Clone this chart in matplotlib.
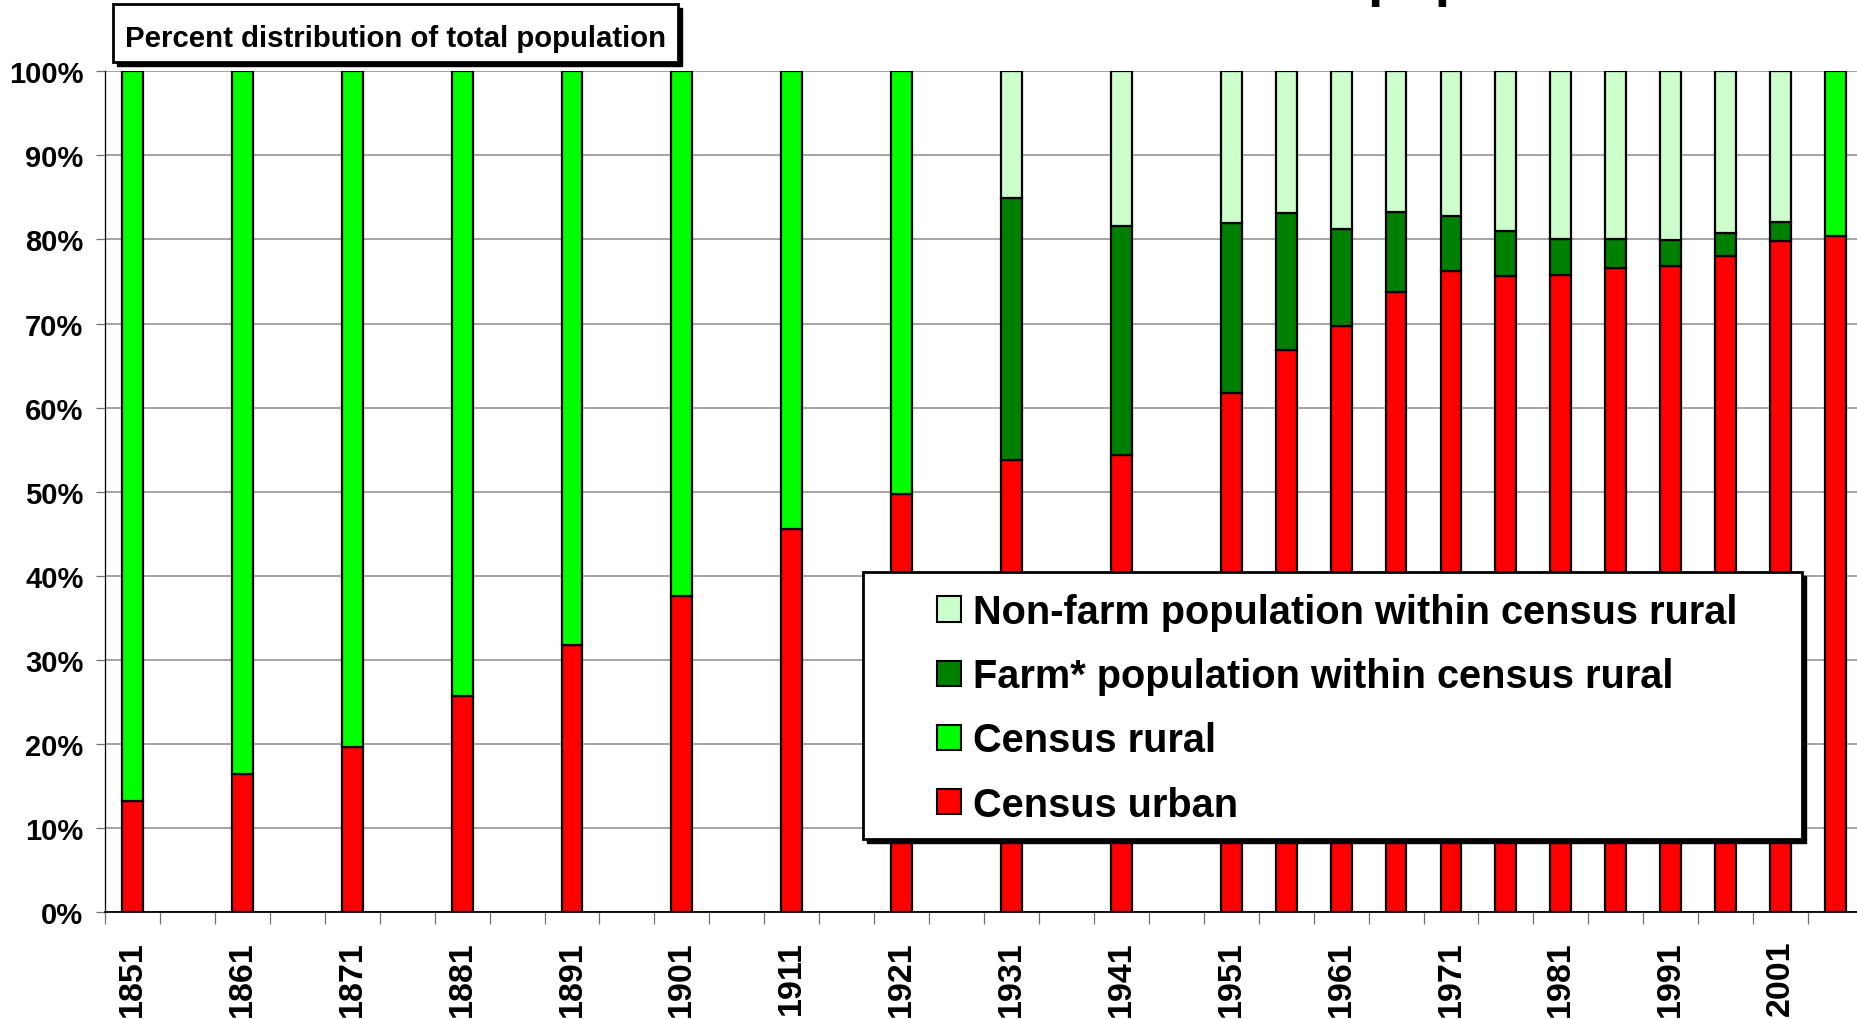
import matplotlib
matplotlib.use("Agg")
import matplotlib.pyplot as plt
from matplotlib.patches import Patch, Rectangle
from matplotlib.ticker import PercentFormatter
import numpy as np

plt.rcParams['font.family'] = ['Liberation Sans', 'DejaVu Sans']
plt.rcParams['font.weight'] = 'bold'

# census years and percent shares of total population
years = [1851, 1861, 1871, 1881, 1891, 1901, 1911, 1921, 1931, 1941,
         1951, 1956, 1961, 1966, 1971, 1976, 1981, 1986, 1991, 1996, 2001, 2006]
census_urban = [13.2, 16.4, 19.6, 25.7, 31.8, 37.6, 45.5, 49.7, 53.8, 54.4,
                61.7, 66.8, 69.7, 73.7, 76.2, 75.6, 75.8, 76.6, 76.8, 78.0, 79.8, 80.4]
census_rural = [86.8, 83.6, 80.4, 74.3, 68.2, 62.4, 54.5, 50.3, 0, 0,
                0, 0, 0, 0, 0, 0, 0, 0, 0, 0, 0, 19.6]
farm_rural = [0, 0, 0, 0, 0, 0, 0, 0, 31.1, 27.2,
              20.2, 16.4, 11.5, 9.6, 6.6, 5.4, 4.3, 3.5, 3.1, 2.8, 2.3, 0]
nonfarm_rural = [0, 0, 0, 0, 0, 0, 0, 0, 15.1, 18.4,
                 18.1, 16.8, 18.8, 16.7, 17.2, 19.0, 19.9, 19.9, 20.1, 19.2, 17.9, 0]
label_years = [1851, 1861, 1871, 1881, 1891, 1901, 1911, 1921, 1931, 1941,
               1951, 1961, 1971, 1981, 1991, 2001]

c_urban = '#FF0000'
c_rural = '#00FF00'
c_farm = '#008000'
c_nonfarm = '#CCFFCC'

W, H = 1858, 1020
fig = plt.figure(figsize=(W / 100, H / 100), dpi=100)
ax = fig.add_axes([105 / W, 1 - 913 / H, 1758 / W, (913 - 72.3) / H])

x = np.array(years)
u = np.array(census_urban)
r = np.array(census_rural)
f = np.array(farm_rural)
nf = np.array(nonfarm_rural)

bw = 1.9
kw = dict(width=bw, edgecolor='black', linewidth=1.6, zorder=3)
ax.bar(x, u, color=c_urban, **kw)
m = r > 0
ax.bar(x[m], r[m], bottom=u[m], color=c_rural, **kw)
m = f > 0
ax.bar(x[m], f[m], bottom=u[m], color=c_farm, **kw)
ax.bar(x[m], nf[m], bottom=u[m] + f[m], color=c_nonfarm, **kw)

ax.set_xlim(1848.5, 2008.5)
ax.set_ylim(0, 100)
ax.set_yticks(np.arange(0, 101, 10))
ax.yaxis.set_major_formatter(PercentFormatter(decimals=0))
ax.grid(axis='y', color='#8c8c8c', linewidth=1.1, zorder=0)
ax.set_axisbelow(True)

ax.set_xticks(label_years)
ax.set_xticklabels([str(y) for y in label_years], rotation=90, fontsize=24.5,
                   fontweight='bold')
ax.set_xticks(np.arange(1848.5, 2009, 5), minor=True)
ax.tick_params(axis='x', which='major', length=0, pad=20)
ax.tick_params(axis='x', which='minor', length=8.5, width=0.9, color='#707070')
ax.tick_params(axis='y', length=6.5, width=0.9, color='#707070', pad=9,
               labelsize=21)
for t in ax.get_yticklabels():
    t.set_fontweight('bold')

ax.spines['top'].set_visible(False)
ax.spines['right'].set_visible(False)
ax.spines['left'].set_linewidth(0.9)
ax.spines['bottom'].set_linewidth(1.3)


def box(x0, y0, x1, y1, off=4):
    # white box with a black drop shadow, in figure pixels
    sh = Rectangle((x0 / W + off / W, 1 - (y1 + off) / H), (x1 - x0) / W, (y1 - y0) / H,
                   transform=fig.transFigure, facecolor='black', edgecolor='black',
                   zorder=2)
    bx = Rectangle((x0 / W, 1 - y1 / H), (x1 - x0) / W, (y1 - y0) / H,
                   transform=fig.transFigure, facecolor='white', edgecolor='black',
                   linewidth=2, zorder=3)
    fig.patches.extend([sh, bx])


# title box
box(113, 5, 678, 63)
fig.text(125 / W, 1 - 47 / H, 'Percent distribution of total population',
         fontsize=21.2, fontweight='bold', va='baseline', ha='left', zorder=4)

# main title, cut off at the top of the picture
fig.text(1367 / W, 1 + 5.5 / H, 'population', fontsize=40, fontweight='bold',
         va='baseline', ha='left')

# legend
box(863, 573, 1802, 840)
handles = [Patch(facecolor=c_nonfarm, edgecolor='black', linewidth=1.5),
           Patch(facecolor=c_farm, edgecolor='black', linewidth=1.5),
           Patch(facecolor=c_rural, edgecolor='black', linewidth=1.5),
           Patch(facecolor=c_urban, edgecolor='black', linewidth=1.5)]
labels = ['Non-farm population within census rural',
          'Farm* population within census rural',
          'Census rural',
          'Census urban']
leg = fig.legend(handles, labels, loc='upper left',
                 bbox_to_anchor=(937 / W, 1 - 594 / H), frameon=False,
                 borderpad=0, borderaxespad=0, handlelength=0.6, handleheight=0.6,
                 handletextpad=0.3, labelspacing=0.66,
                 prop={'size': 28.6, 'weight': 'bold'})
leg.set_zorder(6)

fig.savefig('out.png', dpi=100)
